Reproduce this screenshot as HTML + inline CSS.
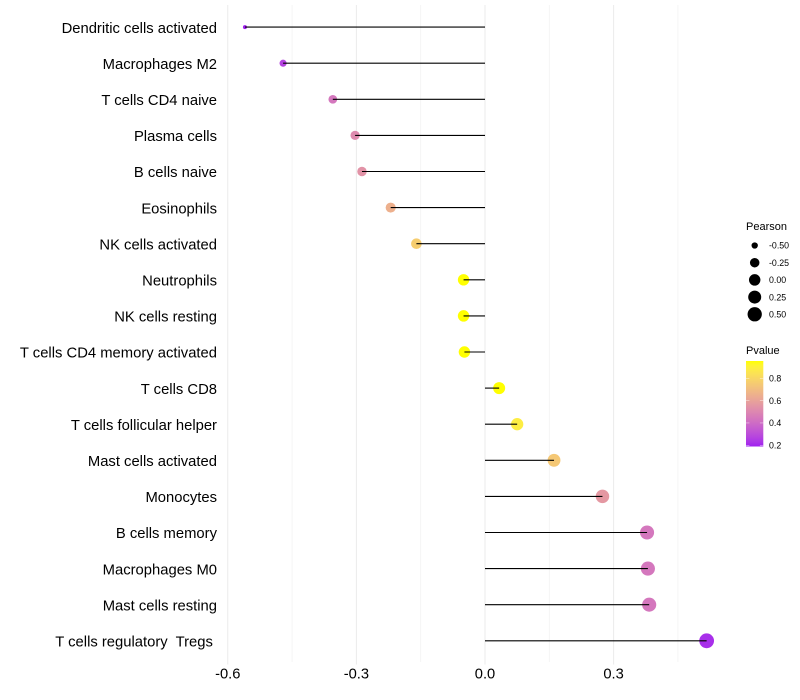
<!DOCTYPE html>
<html>
<head>
<meta charset="utf-8">
<style>
html,body{margin:0;padding:0;background:#fff;}
svg{display:block;}
text{font-family:"Liberation Sans",Arial,sans-serif;fill:#000;white-space:pre;}
</style>
</head>
<body>
<svg id="chart" width="800" height="700" viewBox="0 0 800 700" xmlns="http://www.w3.org/2000/svg"></svg>
<script>
const categories = ["Dendritic cells activated","Macrophages M2","T cells CD4 naive","Plasma cells","B cells naive","Eosinophils","NK cells activated","Neutrophils","NK cells resting","T cells CD4 memory activated","T cells CD8","T cells follicular helper","Mast cells activated","Monocytes","B cells memory","Macrophages M0","Mast cells resting","T cells regulatory  Tregs "];
const pearsonValues = [-0.56,-0.471,-0.355,-0.303,-0.287,-0.22,-0.16,-0.05,-0.05,-0.048,0.033,0.075,0.161,0.274,0.378,0.38,0.383,0.517];
const pvalueValues = [0.19,0.27,0.44,0.51,0.54,0.65,0.76,0.95,0.95,0.95,0.95,0.88,0.74,0.56,0.44,0.44,0.44,0.22];
const xMajorTicks = [-0.6,-0.3,0,0.3];
const xMinorTicks = [-0.45,-0.15,0.15,0.45];
const xTickLabels = ["-0.6","-0.3","0.0","0.3"];
const sizeLegendValues = [-0.5,-0.25,0,0.25,0.5];
const sizeLegendLabels = ["-0.50","-0.25","0.00","0.25","0.50"];
const colorLegendValues = [0.2,0.4,0.6,0.8];
const colorLegendLabels = ["0.2","0.4","0.6","0.8"];

const svg = document.getElementById('chart');
const NS = 'http://www.w3.org/2000/svg';
function make(tag, attrs, text){
  const el = document.createElementNS(NS, tag);
  for (const k in attrs) el.setAttribute(k, attrs[k]);
  if (text !== undefined) el.textContent = text;
  return el;
}
const xScale = v => 485 + v * 428.7;
const yScale = i => 27.1 + i * 36.1;
const panelTop = 5, panelBottom = 662;

const sizeMin = Math.min(...pearsonValues), sizeMax = Math.max(...pearsonValues);
const rScale = v => 2 + 5.4 * Math.sqrt(Math.max(0, (v - sizeMin) / (sizeMax - sizeMin)));

// Lab interpolation purple -> yellow
function srgbToLab(c){
  const f = u => { u /= 255; return u <= 0.04045 ? u / 12.92 : Math.pow((u + 0.055) / 1.055, 2.4); };
  const r = f(c[0]), g = f(c[1]), b = f(c[2]);
  const X = (0.4124 * r + 0.3576 * g + 0.1805 * b) / 0.95047;
  const Y = 0.2126 * r + 0.7152 * g + 0.0722 * b;
  const Z = (0.0193 * r + 0.1192 * g + 0.9505 * b) / 1.08883;
  const h = t => t > 0.008856 ? Math.cbrt(t) : 7.787 * t + 16 / 116;
  return [116 * h(Y) - 16, 500 * (h(X) - h(Y)), 200 * (h(Y) - h(Z))];
}
function labToRgb(l){
  const fy = (l[0] + 16) / 116, fx = fy + l[1] / 500, fz = fy - l[2] / 200;
  const g = t => t * t * t > 0.008856 ? t * t * t : (t - 16 / 116) / 7.787;
  const X = g(fx) * 0.95047, Y = g(fy), Z = g(fz) * 1.08883;
  const lin = [3.2406 * X - 1.5372 * Y - 0.4986 * Z, -0.9689 * X + 1.8758 * Y + 0.0415 * Z, 0.0557 * X - 0.204 * Y + 1.057 * Z];
  const out = lin.map(u => { u = Math.max(0, Math.min(1, u)); return Math.round(255 * (u <= 0.0031308 ? 12.92 * u : 1.055 * Math.pow(u, 1 / 2.4) - 0.055)); });
  return 'rgb(' + out.join(',') + ')';
}
const labLow = srgbToLab([160, 32, 240]), labHigh = srgbToLab([255, 255, 0]);
const pMin = 0.19, pMax = 0.95;
function colorScale(p){
  const t = Math.max(0, Math.min(1, (p - pMin) / (pMax - pMin)));
  return labToRgb([0, 1, 2].map(i => labLow[i] + (labHigh[i] - labLow[i]) * t));
}

// grid
xMinorTicks.forEach(v => {
  const l = make('line', {x1: xScale(v), x2: xScale(v), y1: panelTop, y2: panelBottom, stroke: '#f3f3f3', 'stroke-width': 0.8});
  
  
  svg.appendChild(l);
});
xMajorTicks.forEach((v, i) => {
  const l = make('line', {x1: xScale(v), x2: xScale(v), y1: panelTop, y2: panelBottom + 2.5, stroke: '#ebebeb', 'stroke-width': 1});
  
  
  svg.appendChild(l);
  const t = make('text', {x: xScale(v), y: 678.5, 'text-anchor': 'middle', 'font-size': 14.7}, xTickLabels[i]);
  
  
  svg.appendChild(t);
});

// rows
categories.forEach((name, i) => {
  const y = yScale(i);
  const t = make('text', {x: 217, y: y + 5.7, 'text-anchor': 'end', 'font-size': 14.8}, name);
  
  
  svg.appendChild(t);
  const c = make('circle', {cx: xScale(pearsonValues[i]), cy: y, r: rScale(pearsonValues[i]), fill: colorScale(pvalueValues[i])});
  
  
  svg.appendChild(c);
  const s = make('line', {x1: xScale(0), x2: xScale(pearsonValues[i]), y1: y, y2: y, stroke: '#000', 'stroke-width': 1.1});
  
  
  svg.appendChild(s);
});

// size legend
const sizeTitle = make('text', {x: 746, y: 230, 'font-size': 11}, 'Pearson');


svg.appendChild(sizeTitle);
sizeLegendValues.forEach((v, i) => {
  const y = 245.5 + i * 17.2;
  const c = make('circle', {cx: 754.7, cy: y, r: rScale(v) * 0.97, fill: '#000'});
  
  
  svg.appendChild(c);
  const t = make('text', {x: 769, y: y + 3.2, 'font-size': 8.8}, sizeLegendLabels[i]);
  
  
  svg.appendChild(t);
});

// colour legend
const colorTitle = make('text', {x: 746, y: 354, 'font-size': 11}, 'Pvalue');


svg.appendChild(colorTitle);
const barTop = 361, barBottom = 446.5, barLeft = 746, barRight = 763.3;
const legendY = p => 445.3 - (p - 0.2) * 111.7;
const defs = make('defs', {});
const grad = make('linearGradient', {id: 'pvalue-gradient', x1: 0, y1: 0, x2: 0, y2: 1});
for (let k = 0; k <= 20; k++) {
  const stop = make('stop', {offset: k / 20, 'stop-color': colorScale(pMax - (pMax - pMin) * k / 20)});
  grad.appendChild(stop);
}
defs.appendChild(grad);
svg.appendChild(defs);
const bar = make('rect', {x: barLeft, y: barTop, width: barRight - barLeft, height: barBottom - barTop, fill: 'url(#pvalue-gradient)'});


svg.appendChild(bar);
colorLegendValues.forEach((v, i) => {
  const y = legendY(v);
  [[barLeft, barLeft + 3.4], [barRight - 3.4, barRight]].forEach(p => {
    const m = make('line', {x1: p[0], x2: p[1], y1: y, y2: y, stroke: '#fff', 'stroke-width': 0.5, 'stroke-opacity': 0.8});
    
    
    svg.appendChild(m);
  });
  const t = make('text', {x: 769, y: y + 3.2, 'font-size': 8.8}, colorLegendLabels[i]);
  
  
  svg.appendChild(t);
});
</script>
</body>
</html>
